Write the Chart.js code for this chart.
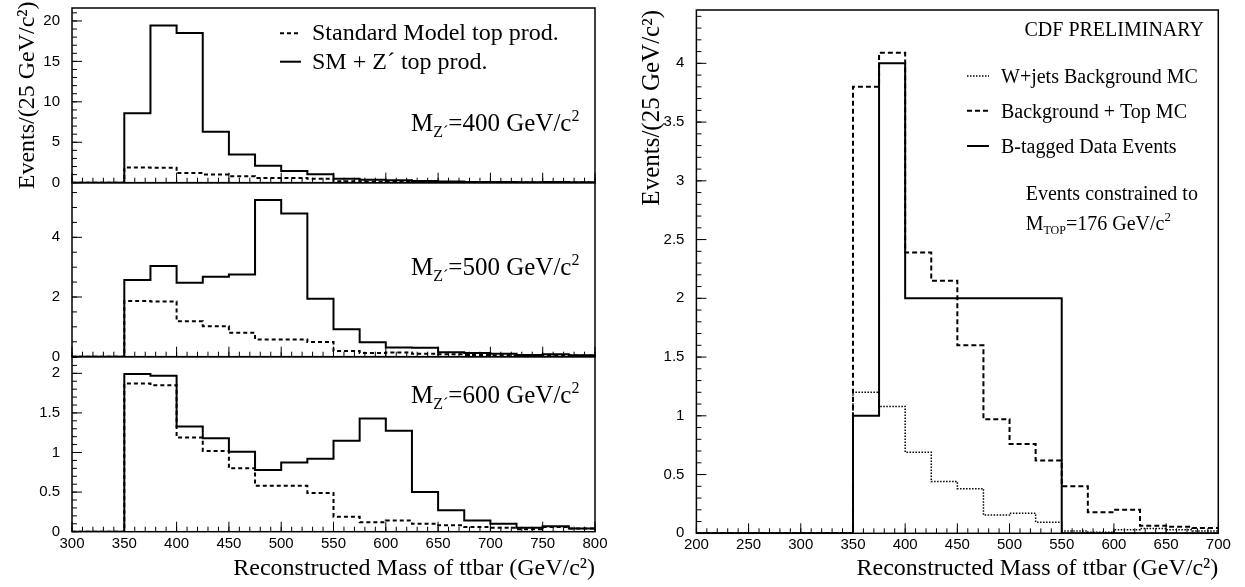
<!DOCTYPE html>
<html>
<head>
<meta charset="utf-8">
<script src="https://cdn.jsdelivr.net/npm/chart.js@4.4.1/dist/chart.umd.min.js"></script>
<style>
  html, body { margin: 0; padding: 0; background: #fff; }
  #wrap { position: relative; width: 1245px; height: 587px; overflow: hidden; background: #fff; }
  #wrap canvas { position: absolute; left: 0; top: 0; }
</style>
</head>
<body>
<div id="wrap">
  <canvas id="c_z400" width="1245" height="587"></canvas>
  <canvas id="c_z500" width="1245" height="587"></canvas>
  <canvas id="c_z600" width="1245" height="587"></canvas>
  <canvas id="c_cdf" width="1245" height="587"></canvas>
</div>
<script>
// ---- data (lower bin edges, 25 GeV bins) ----
var binWidth = 25;
var leftBins = [300, 325, 350, 375, 400, 425, 450, 475, 500, 525, 550, 575, 600, 625, 650, 675, 700, 725, 750, 775];
var smTop = [0, 0, 1.87, 1.85, 1.19, 1.02, 0.80, 0.58, 0.58, 0.49, 0.19, 0.12, 0.14, 0.10, 0.08, 0.06, 0.05, 0.03, 0.06, 0.04];
var zp400 = [0, 0, 8.6, 19.45, 18.5, 6.3, 3.5, 2.1, 1.45, 1.05, 0.5, 0.35, 0.3, 0.2, 0.15, 0.1, 0.1, 0.06, 0.08, 0.05];
var zp500 = [0, 0, 2.57, 3.04, 2.48, 2.68, 2.75, 5.25, 4.8, 1.94, 0.92, 0.48, 0.31, 0.3, 0.15, 0.12, 0.1, 0.06, 0.08, 0.05];
var zp600 = [0, 0, 1.99, 1.97, 1.33, 1.18, 1.01, 0.78, 0.875, 0.92, 1.15, 1.43, 1.275, 0.5, 0.27, 0.14, 0.1, 0.05, 0.07, 0.04];

var rightBins = [200, 225, 250, 275, 300, 325, 350, 375, 400, 425, 450, 475, 500, 525, 550, 575, 600, 625, 650, 675];
var wjetsMC = [0, 0, 0, 0, 0, 0, 1.2, 1.08, 0.69, 0.44, 0.38, 0.155, 0.17, 0.095, 0.02, 0.01, 0.03, 0.04, 0.03, 0.02];
var bkgTopMC = [0, 0, 0, 0, 0, 0, 3.8, 4.09, 2.39, 2.15, 1.6, 0.97, 0.76, 0.62, 0.40, 0.18, 0.20, 0.065, 0.055, 0.045];
var btagData = [0, 0, 0, 0, 0, 0, 1, 4, 2, 2, 2, 2, 2, 2, 0, 0, 0, 0, 0, 0];

// ---- tick labels ----
var leftXTicks = [300, 350, 400, 450, 500, 550, 600, 650, 700, 750, 800];
var topYTicks = [0, 5, 10, 15, 20];
var midYTicks = [0, 2, 4];
var lowYTicks = [0, 0.5, 1, 1.5, 2];
var rightXTicks = [200, 250, 300, 350, 400, 450, 500, 550, 600, 650, 700];
var rightYTicks = [0, 0.5, 1, 1.5, 2, 2.5, 3, 3.5, 4];

var tickFont = { family: 'Liberation Sans', size: 15 };
var serif = 'Liberation Serif';

function histPoints(bins, values) {
    var pts = bins.map(function (e, i) { return { x: e, y: values[i] }; });
    pts.push({ x: bins[bins.length - 1] + binWidth, y: values[values.length - 1] });
    return pts;
}

function histSet(label, bins, values, width, dash) {
    return {
        label: label,
        data: histPoints(bins, values),
        stepped: 'before',
        borderColor: '#000',
        borderWidth: width,
        borderDash: dash,
        pointRadius: 0,
        fill: false
    };
}

// inward ROOT-style ticks + frame
var rootFrame = {
    id: 'rootFrame',
    afterDraw: function (chart, args, opts) {
        var ctx = chart.ctx, a = chart.chartArea, x = chart.scales.x, y = chart.scales.y;
        ctx.save();
        ctx.strokeStyle = '#000';
        ctx.setLineDash([]);
        ctx.lineWidth = 1;
        ctx.beginPath();
        var i, p;
        for (i = 0; x.min + i * opts.xMinor <= x.max + 1e-9; i++) {
            p = x.getPixelForValue(x.min + i * opts.xMinor);
            ctx.moveTo(p, a.bottom); ctx.lineTo(p, a.bottom - 5);
        }
        opts.xMajor.forEach(function (v) {
            p = x.getPixelForValue(v);
            ctx.moveTo(p, a.bottom); ctx.lineTo(p, a.bottom - 10);
        });
        for (i = 0; y.min + i * opts.yMinor <= y.max + 1e-9; i++) {
            p = y.getPixelForValue(y.min + i * opts.yMinor);
            ctx.moveTo(a.left, p); ctx.lineTo(a.left + 5, p);
        }
        opts.yMajor.forEach(function (v) {
            p = y.getPixelForValue(v);
            ctx.moveTo(a.left, p); ctx.lineTo(a.left + 10, p);
        });
        ctx.stroke();
        ctx.lineWidth = 1.5;
        ctx.strokeRect(a.left, a.top, a.right - a.left, a.bottom - a.top);
        ctx.restore();
    }
};

// legend keys and free text
var notes = {
    id: 'notes',
    afterDraw: function (chart, args, opts) {
        var ctx = chart.ctx;
        ctx.save();
        ctx.fillStyle = '#000';
        ctx.strokeStyle = '#000';
        ctx.textBaseline = 'alphabetic';
        ctx.textAlign = 'left';
        (opts.keys || []).forEach(function (k) {
            var ds = chart.data.datasets[k.ds];
            ctx.setLineDash(ds.borderDash || []);
            ctx.lineWidth = ds.borderWidth;
            ctx.beginPath();
            ctx.moveTo(k.x1, k.y); ctx.lineTo(k.x2, k.y);
            ctx.stroke();
            ctx.font = k.size + 'px "' + serif + '"';
            ctx.fillText(ds.label, k.tx, k.ty);
        });
        (opts.items || []).forEach(function (it) {
            var x = it.x;
            it.parts.forEach(function (p) {
                ctx.font = p.size + 'px "' + serif + '"';
                ctx.fillText(p.t, x, it.y + (p.dy || 0));
                x += ctx.measureText(p.t).width;
            });
        });
        ctx.restore();
    }
};

function yScale(vals, maxVal, boxWidth, title) {
    return {
        type: 'linear', min: 0, max: maxVal,
        afterBuildTicks: function (s) { s.ticks = vals.map(function (v) { return { value: v }; }); },
        afterFit: function (s) {
            s.width = boxWidth;
            // keep the plot frame where the layout padding puts it
            s.paddingTop = 0; s.paddingBottom = 0;
        },
        grid: { display: false, drawTicks: false },
        border: { display: false },
        ticks: { padding: 12, font: tickFont, color: '#000', callback: function (v) { return String(v); } },
        title: title || { display: false }
    };
}

function xScale(vals, minVal, maxVal, boxHeight, show) {
    return {
        type: 'linear', min: minVal, max: maxVal,
        display: show,
        afterBuildTicks: function (s) { s.ticks = vals.map(function (v) { return { value: v }; }); },
        afterFit: function (s) {
            s.height = boxHeight;
            s.paddingLeft = 0; s.paddingRight = 0;
        },
        grid: { display: false, drawTicks: false },
        border: { display: false },
        ticks: { padding: 3, font: tickFont, color: '#000', maxRotation: 0, autoSkip: false,
                 callback: function (v) { return String(v); } },
        title: {
            display: show, text: 'Reconstructed Mass of ttbar (GeV/c²)', align: 'end', color: '#000',
            font: { family: serif, size: 24 }, padding: { top: 0, bottom: 4 }
        }
    };
}

function mzLabel(x, y, mass) {
    return { x: x, y: y, parts: [
        { t: 'M', size: 25 }, { t: 'Z´', size: 16, dy: 6 },
        { t: '=' + mass + ' GeV/c', size: 25 }, { t: '2', size: 16, dy: -10 }
    ] };
}

function makeLeft(id, values, yTicks, yMax, yMinor, pad, showX, extra) {
    var yt = null;
    if (extra.yTitle) {
        yt = { display: true, text: 'Events/(25 GeV/c²)', align: 'center', color: '#000',
               font: { family: serif, size: 24 }, padding: { top: 13, bottom: 0 } };
    }
    return new Chart(document.getElementById(id), {
        type: 'line',
        data: {
            datasets: [
                histSet('SM + Z´ top prod.', leftBins, values, 2, []),
                histSet('Standard Model top prod.', leftBins, smTop, 2, [4, 3])
            ]
        },
        options: {
            responsive: false,
            animation: false,
            layout: { padding: pad },
            scales: {
                x: xScale(leftXTicks, 300, 800, showX ? 55.3 : 0, showX),
                y: yScale(yTicks, yMax, 72, yt)
            },
            plugins: {
                legend: { display: false },
                tooltip: { enabled: false },
                rootFrame: { xMinor: 10, xMajor: leftXTicks, yMinor: yMinor, yMajor: yTicks },
                notes: { keys: extra.keys || [], items: extra.items || [] }
            }
        },
        plugins: [rootFrame, notes]
    });
}

makeLeft('c_z400', zp400, topYTicks, 21.6, 1, { left: 0, top: 8, right: 650, bottom: 404.3 }, false, {
    yTitle: true,
    keys: [
        { ds: 1, x1: 280, x2: 301, y: 33.3, tx: 312, ty: 40, size: 24 },
        { ds: 0, x1: 280, x2: 301, y: 61.7, tx: 312, ty: 68.5, size: 24 }
    ],
    items: [mzLabel(411, 131, 400)]
});
makeLeft('c_z500', zp500, midYTicks, 5.83, 0.5, { left: 0, top: 182.7, right: 650, bottom: 230.3 }, false, {
    items: [mzLabel(411, 275, 500)]
});
makeLeft('c_z600', zp600, lowYTicks, 2.21, 0.1, { left: 0, top: 356.7, right: 650, bottom: 0 }, true, {
    items: [mzLabel(411, 403, 600)]
});

// right panel
new Chart(document.getElementById('c_cdf'), {
    type: 'line',
    data: {
        datasets: [
            histSet('B-tagged Data Events', rightBins, btagData, 2, []),
            histSet('Background + Top MC', rightBins, bkgTopMC, 2, [5, 3]),
            histSet('W+jets Background MC', rightBins, wjetsMC, 1.5, [1.5, 1.5])
        ]
    },
    options: {
        responsive: false,
        animation: false,
        layout: { padding: { left: 620, top: 10, right: 26.7, bottom: 0 } },
        scales: {
            x: xScale(rightXTicks, 200, 700, 53.7, true),
            y: yScale(rightYTicks, 4.454, 76.4, {
                display: true, text: 'Events/(25 GeV/c²)', align: 'end', color: '#000',
                font: { family: serif, size: 25 }, padding: { top: 17, bottom: 0 }
            })
        },
        plugins: {
            legend: { display: false },
            tooltip: { enabled: false },
            rootFrame: { xMinor: 10, xMajor: rightXTicks, yMinor: 0.1, yMajor: rightYTicks },
            notes: {
                keys: [
                    { ds: 2, x1: 967, x2: 989, y: 76, tx: 1001, ty: 82.7, size: 20 },
                    { ds: 1, x1: 967, x2: 989, y: 110.7, tx: 1001, ty: 117.5, size: 20 },
                    { ds: 0, x1: 967, x2: 989, y: 146, tx: 1001, ty: 152.5, size: 20 }
                ],
                items: [
                    { x: 1024.5, y: 35.7, parts: [{ t: 'CDF PRELIMINARY', size: 20 }] },
                    { x: 1025.7, y: 200, parts: [{ t: 'Events constrained to', size: 20 }] },
                    { x: 1025.7, y: 230, parts: [
                        { t: 'M', size: 20 }, { t: 'TOP', size: 12, dy: 4 },
                        { t: '=176 GeV/c', size: 20 }, { t: '2', size: 13, dy: -9 }
                    ] }
                ]
            }
        }
    },
    plugins: [rootFrame, notes]
});
</script>
</body>
</html>
